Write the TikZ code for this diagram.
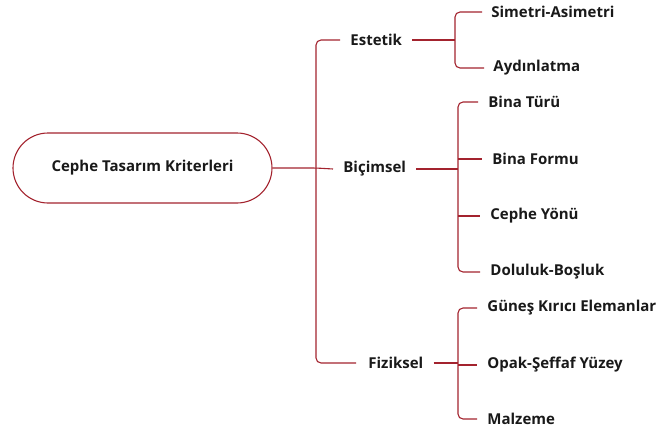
\documentclass[tikz,border=0pt]{standalone}
\usepackage{fontspec}
\setmainfont{Open Sans}
\usetikzlibrary{calc}
\definecolor{branchred}{HTML}{A3232E}

\begin{document}
\begin{tikzpicture}[x=1pt, y=-1pt, thick,
      branch/.style={draw=branchred, line width=1.1pt, rounded corners=5pt},
      item/.style={anchor=west, inner sep=0pt, font=\fontsize{15}{18}\selectfont\bfseries, text=black!90},
      root/.style={draw=branchred, line width=1.1pt, rounded corners=35pt, minimum width=259pt,
        minimum height=70pt, font=\fontsize{15}{18}\selectfont\bfseries, text=black!90}]

    \useasboundingbox (0,0) rectangle (657,432);

      \begin{scope}
          \node [root] (cephe) at (142.5,168) {Cephe Tasarım Kriterleri};

          \node [item] (estetik) at (350,40) {Estetik};
          \node [item] (bicimsel) at (343,169) {Biçimsel};
          \node [item] (fiziksel) at (368,363) {Fiziksel};

          \node [item] (simetri) at (491,12) {Simetri-Asimetri};
          \node [item] (aydin) at (493,68) {Aydınlatma};

          \node [item] (turu) at (488,102) {Bina Türü};
          \node [item] (formu) at (492,159) {Bina Formu};
          \node [item] (yonu) at (490,216) {Cephe Yönü};
          \node [item] (doluluk) at (490,272) {Doluluk-Boşluk};

          \node [item] (gunes) at (487,308) {Güneş Kırıcı Elemanlar};
          \node [item] (opak) at (487,365) {Opak-Şeffaf Yüzey};
          \node [item] (malzeme) at (487,419) {Malzeme};
      \end{scope}

        \coordinate (trunk) at (316,168);
        \coordinate (estbar) at (455,40);
        \coordinate (bicbar) at (458,169);
        \coordinate (fizbar) at (458,363);

        \draw [branch] (cephe.east) -- (trunk) -- ([xshift=-10pt]bicimsel.west);
        \draw [branch] ([xshift=-10pt]estetik.west) -| (trunk) |- ([xshift=-12pt]fiziksel.west);

        \draw [branch] ([xshift=10pt]estetik.east) -- (estbar);
        \draw [branch] ([xshift=-9pt]simetri.west) -| (estbar) |- ([xshift=-9pt]aydin.west);

        \draw [branch] ([xshift=10pt]bicimsel.east) -- (bicbar);
        \draw [branch] ([xshift=-10pt]turu.west) -| (bicbar) |- ([xshift=-10pt]doluluk.west);
        \draw [branch] (bicbar |- formu.west) -- ([xshift=-10pt]formu.west);
        \draw [branch] (bicbar |- yonu.west) -- ([xshift=-10pt]yonu.west);

        \draw [branch] ([xshift=10pt]fiziksel.east) -- (fizbar);
        \draw [branch] ([xshift=-10pt]gunes.west) -| (fizbar) |- ([xshift=-10pt]malzeme.west);
        \draw [branch] (fizbar |- opak.west) -- ([xshift=-10pt]opak.west);

    \end{tikzpicture}
\end{document}
